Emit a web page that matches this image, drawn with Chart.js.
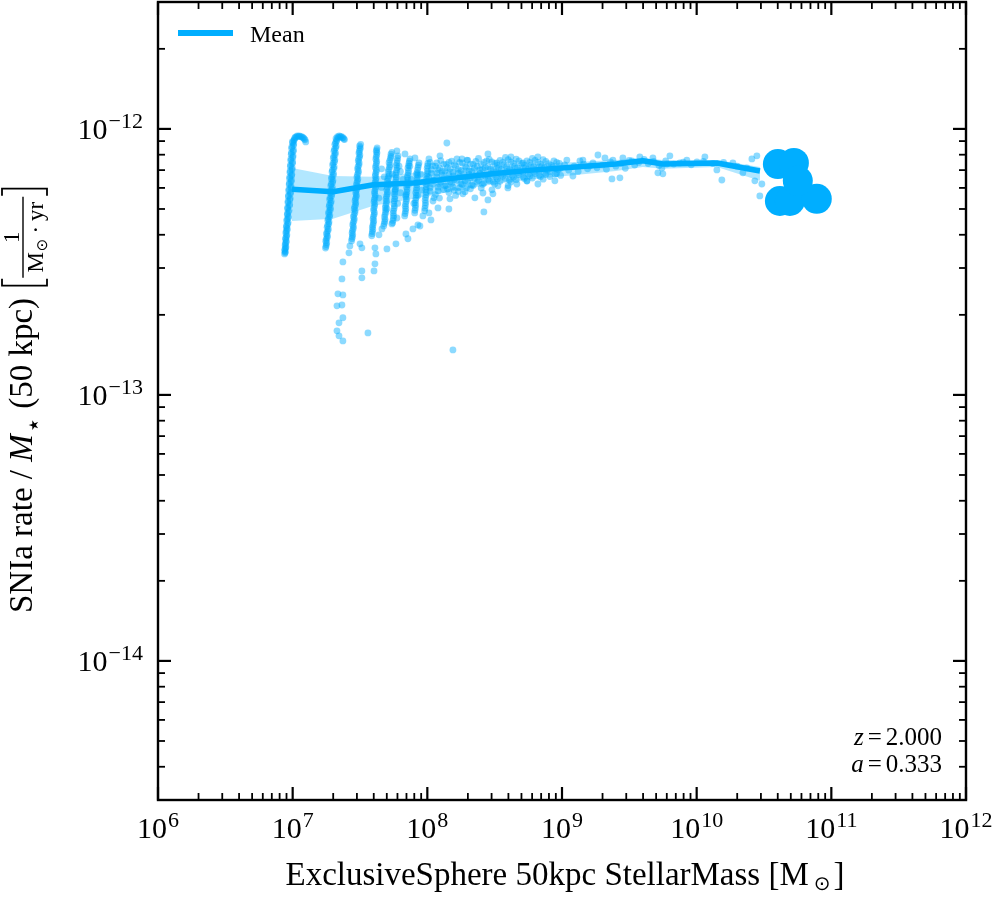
<!DOCTYPE html>
<html>
<head>
<meta charset="utf-8">
<script src="https://cdn.jsdelivr.net/npm/chart.js"></script>
<style>
  html, body { margin: 0; padding: 0; background: #ffffff; }
  canvas { display: block; }
</style>
</head>
<body>
<canvas id="c" width="996" height="900"></canvas>
<script>
// ---------------- DATA (log10 units) ----------------
// Mean curve (log10 stellar mass, log10 SNIa rate per mass)
const meanLogMass = [6.995, 7.30, 7.60, 7.90, 8.20, 8.50, 8.80, 9.10, 9.40, 9.60, 9.75, 10.15, 10.47];
const meanLogRate = [-12.227, -12.236, -12.210, -12.203, -12.185, -12.168, -12.154, -12.143, -12.132, -12.120, -12.132, -12.128, -12.158];
// 16th / 84th percentile band
const bandLogRateLow  = [-12.346, -12.338, -12.289, -12.263, -12.233, -12.207, -12.188, -12.173, -12.158, -12.143, -12.150, -12.143, -12.195];
const bandLogRateHigh = [-12.147, -12.177, -12.180, -12.165, -12.150, -12.139, -12.132, -12.124, -12.117, -12.109, -12.117, -12.117, -12.143];

// Individual galaxies: discrete-mass stripes at low mass
const stripePoints = [
  // stripe 1
  [6.940,-12.470],[6.946,-12.462],[6.942,-12.452],[6.950,-12.444],[6.945,-12.432],[6.953,-12.421],[6.948,-12.410],[6.957,-12.398],
  [6.951,-12.386],[6.960,-12.375],[6.954,-12.364],[6.966,-12.352],[6.958,-12.340],[6.970,-12.329],[6.961,-12.318],[6.973,-12.306],
  [6.963,-12.295],[6.978,-12.284],[6.966,-12.272],[6.982,-12.261],[6.969,-12.250],[6.985,-12.238],[6.972,-12.227],[6.988,-12.215],
  [6.975,-12.204],[6.991,-12.192],[6.978,-12.181],[6.994,-12.170],[6.981,-12.158],[6.997,-12.147],[6.984,-12.136],[7.000,-12.124],
  [6.987,-12.113],[7.003,-12.101],[6.990,-12.090],[7.006,-12.079],[6.994,-12.067],[7.008,-12.056],[6.998,-12.048],[7.012,-12.040],
  [7.020,-12.031],[7.034,-12.026],[7.050,-12.026],[7.066,-12.029],[7.080,-12.034],[7.092,-12.041],[7.097,-12.049],
  [6.944,-12.466],[6.941,-12.458],[6.948,-12.448],[6.944,-12.438],[6.951,-12.427],[6.947,-12.415],[6.955,-12.404],[6.950,-12.392],
  [6.958,-12.381],[6.953,-12.370],[6.963,-12.358],[6.956,-12.346],[6.967,-12.335],[6.960,-12.323],[6.971,-12.312],[6.962,-12.300],
  [6.975,-12.289],[6.965,-12.278],[6.979,-12.267],[6.968,-12.255],[6.983,-12.244],[6.971,-12.233],[6.986,-12.221],[6.974,-12.210],
  [6.989,-12.198],[6.977,-12.187],[6.992,-12.176],[6.980,-12.164],[6.995,-12.153],[6.983,-12.141],[6.998,-12.130],[6.986,-12.119],
  [7.001,-12.107],[6.989,-12.096],[7.004,-12.085],[6.992,-12.073],[7.006,-12.062],[7.000,-12.052],[7.009,-12.044],[7.015,-12.035],
  [7.027,-12.030],[7.042,-12.028],[7.058,-12.029],[7.073,-12.032],[7.086,-12.038],
  // stripe 2
  [7.244,-12.448],[7.250,-12.435],[7.246,-12.422],[7.256,-12.409],[7.251,-12.396],[7.262,-12.383],[7.256,-12.370],[7.268,-12.357],
  [7.261,-12.344],[7.273,-12.331],[7.266,-12.318],[7.279,-12.305],[7.271,-12.292],[7.283,-12.279],[7.275,-12.266],[7.288,-12.253],
  [7.279,-12.240],[7.292,-12.227],[7.283,-12.214],[7.297,-12.201],[7.288,-12.188],[7.301,-12.175],[7.292,-12.162],[7.306,-12.149],
  [7.297,-12.136],[7.311,-12.123],[7.302,-12.110],[7.315,-12.097],[7.307,-12.084],[7.320,-12.071],[7.313,-12.058],[7.326,-12.046],
  [7.322,-12.036],[7.333,-12.029],[7.346,-12.026],[7.360,-12.028],[7.374,-12.033],[7.385,-12.040],
  [7.247,-12.442],[7.253,-12.428],[7.249,-12.415],[7.259,-12.402],[7.254,-12.389],[7.265,-12.376],[7.259,-12.363],[7.270,-12.350],
  [7.264,-12.337],[7.276,-12.324],[7.269,-12.311],[7.281,-12.298],[7.273,-12.285],[7.286,-12.272],[7.277,-12.259],[7.290,-12.246],
  [7.281,-12.233],[7.295,-12.220],[7.286,-12.207],[7.299,-12.194],[7.290,-12.181],[7.304,-12.168],[7.295,-12.155],[7.308,-12.142],
  [7.300,-12.129],[7.313,-12.116],[7.305,-12.103],[7.318,-12.090],[7.310,-12.077],[7.323,-12.064],[7.318,-12.052],[7.328,-12.040],
  [7.339,-12.032],[7.353,-12.030],[7.367,-12.033],[7.380,-12.038],
  // stripe 3
  [7.437,-12.421],[7.443,-12.406],[7.441,-12.391],[7.449,-12.376],[7.446,-12.361],[7.455,-12.346],[7.451,-12.331],[7.462,-12.316],
  [7.457,-12.301],[7.467,-12.286],[7.463,-12.271],[7.472,-12.256],[7.468,-12.241],[7.477,-12.226],[7.473,-12.211],[7.481,-12.196],
  [7.477,-12.181],[7.487,-12.166],[7.482,-12.151],[7.492,-12.136],[7.487,-12.121],[7.497,-12.106],[7.492,-12.091],[7.500,-12.076],
  [7.497,-12.064],[7.505,-12.058],
  [7.440,-12.413],[7.446,-12.398],[7.444,-12.383],[7.452,-12.368],[7.449,-12.353],[7.458,-12.338],[7.455,-12.323],[7.464,-12.308],
  [7.460,-12.293],[7.469,-12.278],[7.466,-12.263],[7.474,-12.248],[7.471,-12.233],[7.479,-12.218],[7.476,-12.203],[7.484,-12.188],
  [7.480,-12.173],[7.489,-12.158],[7.485,-12.143],[7.494,-12.128],[7.490,-12.113],[7.499,-12.098],[7.495,-12.084],[7.502,-12.070],
  // stripe 4
  [7.587,-12.402],[7.592,-12.386],[7.592,-12.370],[7.599,-12.354],[7.597,-12.338],[7.605,-12.322],[7.601,-12.306],[7.608,-12.290],
  [7.604,-12.274],[7.611,-12.258],[7.608,-12.242],[7.614,-12.226],[7.610,-12.210],[7.617,-12.194],[7.613,-12.178],[7.620,-12.162],
  [7.615,-12.146],[7.622,-12.130],[7.618,-12.114],[7.624,-12.098],[7.621,-12.084],[7.627,-12.071],
  [7.590,-12.394],[7.595,-12.378],[7.596,-12.362],[7.602,-12.346],[7.600,-12.330],[7.607,-12.314],[7.603,-12.298],[7.610,-12.282],
  [7.606,-12.266],[7.613,-12.250],[7.609,-12.234],[7.616,-12.218],[7.612,-12.202],[7.619,-12.186],[7.615,-12.170],[7.622,-12.154],
  [7.618,-12.138],[7.624,-12.122],[7.620,-12.106],[7.626,-12.090],[7.624,-12.078],
  // stripe 5
  [7.676,-12.365],[7.684,-12.348],[7.682,-12.331],[7.690,-12.314],[7.688,-12.297],[7.696,-12.280],[7.693,-12.263],[7.702,-12.246],
  [7.698,-12.229],[7.707,-12.212],[7.703,-12.195],[7.713,-12.178],[7.709,-12.161],[7.720,-12.144],[7.716,-12.127],[7.727,-12.110],
  [7.730,-12.095],[7.737,-12.088],
  [7.680,-12.356],[7.686,-12.340],[7.686,-12.322],[7.692,-12.306],[7.691,-12.288],[7.698,-12.272],[7.697,-12.254],[7.704,-12.238],
  [7.703,-12.220],[7.710,-12.204],[7.708,-12.186],[7.716,-12.170],[7.714,-12.152],[7.722,-12.136],[7.722,-12.118],[7.730,-12.103],
  // stripe 6
  [7.742,-12.353],[7.748,-12.335],[7.746,-12.317],[7.753,-12.299],[7.751,-12.281],[7.758,-12.263],[7.755,-12.245],[7.763,-12.227],
  [7.760,-12.209],[7.768,-12.191],[7.764,-12.173],[7.772,-12.155],[7.769,-12.137],[7.777,-12.119],[7.782,-12.101],
  [7.745,-12.344],[7.750,-12.326],[7.749,-12.308],[7.756,-12.290],[7.754,-12.272],[7.760,-12.254],[7.759,-12.236],[7.766,-12.218],
  [7.764,-12.200],[7.770,-12.182],[7.769,-12.164],[7.775,-12.146],[7.774,-12.128],[7.779,-12.110],
  // stripe 7
  [7.832,-12.327],[7.838,-12.309],[7.836,-12.291],[7.843,-12.273],[7.841,-12.255],[7.848,-12.237],[7.846,-12.219],[7.853,-12.201],
  [7.851,-12.183],[7.858,-12.165],[7.856,-12.147],[7.864,-12.129],[7.871,-12.113],
  [7.835,-12.318],[7.840,-12.300],[7.839,-12.282],[7.845,-12.264],[7.844,-12.246],[7.850,-12.228],[7.850,-12.210],[7.856,-12.192],
  [7.855,-12.174],[7.861,-12.156],[7.861,-12.138],[7.867,-12.121],
  // stripe 8
  [7.906,-12.316],[7.911,-12.297],[7.910,-12.278],[7.916,-12.259],[7.914,-12.240],[7.921,-12.221],[7.919,-12.202],[7.926,-12.183],
  [7.924,-12.164],[7.931,-12.145],[7.938,-12.128],
  [7.908,-12.306],[7.913,-12.287],[7.913,-12.268],[7.918,-12.249],[7.918,-12.230],[7.923,-12.211],[7.923,-12.192],[7.928,-12.173],
  [7.928,-12.154],[7.934,-12.136],
  // stripe 9
  [7.980,-12.308],[7.985,-12.288],[7.984,-12.268],[7.990,-12.248],[7.989,-12.228],[7.995,-12.208],[7.994,-12.188],[8.000,-12.168],
  [7.999,-12.148],[8.004,-12.130],
  [7.982,-12.298],[7.987,-12.278],[7.987,-12.258],[7.992,-12.238],[7.992,-12.218],[7.997,-12.198],[7.997,-12.178],[8.002,-12.158],
  [8.002,-12.139]
];

// Individual galaxies: continuous cloud at intermediate / high mass
const cloudPoints = [
  [7.66,-12.150],[7.72,-12.210],[7.80,-12.160],[7.80,-12.240],[7.88,-12.190],[7.87,-12.140],[7.95,-12.170],[7.96,-12.230],
  [7.70,-12.300],[7.78,-12.280],[7.90,-12.280],
  [7.68,-12.18],[7.74,-12.17],[7.76,-12.23],[7.82,-12.19],[7.84,-12.25],[7.86,-12.21],[7.92,-12.17],[7.93,-12.25],
  [7.97,-12.20],[7.64,-12.26],[7.66,-12.22],[7.79,-12.14],
  [8.02,-12.126],[8.03,-12.152],[8.01,-12.181],[8.04,-12.207],[8.02,-12.234],[8.05,-12.259],
  [8.06,-12.140],[8.07,-12.166],[8.05,-12.193],[8.08,-12.219],[8.06,-12.247],
  [8.10,-12.119],[8.09,-12.147],[8.11,-12.173],[8.10,-12.200],[8.12,-12.228],[8.09,-12.260],
  [8.14,-12.133],[8.13,-12.159],[8.15,-12.186],[8.14,-12.213],[8.16,-12.239],
  [8.18,-12.121],[8.17,-12.150],[8.19,-12.177],[8.18,-12.205],[8.20,-12.231],
  [8.22,-12.113],[8.21,-12.139],[8.23,-12.166],[8.22,-12.193],[8.24,-12.221],[8.21,-12.250],
  [8.26,-12.128],[8.25,-12.156],[8.27,-12.182],[8.26,-12.209],[8.28,-12.236],
  [8.30,-12.118],[8.29,-12.145],[8.31,-12.171],[8.30,-12.198],[8.32,-12.225],
  [8.34,-12.133],[8.33,-12.160],[8.35,-12.186],[8.34,-12.213],
  [8.38,-12.111],[8.37,-12.140],[8.39,-12.167],[8.38,-12.194],[8.40,-12.222],
  [8.42,-12.126],[8.41,-12.152],[8.43,-12.178],[8.42,-12.204],
  [8.46,-12.115],[8.45,-12.142],[8.47,-12.168],[8.46,-12.195],[8.48,-12.229],
  [8.50,-12.130],[8.49,-12.156],[8.51,-12.181],[8.50,-12.207],
  [8.54,-12.118],[8.53,-12.146],[8.55,-12.171],[8.54,-12.197],
  [8.58,-12.107],[8.57,-12.134],[8.59,-12.160],[8.58,-12.186],[8.60,-12.213],
  [8.62,-12.124],[8.61,-12.150],[8.63,-12.175],[8.62,-12.200],
  [8.66,-12.114],[8.65,-12.140],[8.67,-12.165],[8.66,-12.191],
  [8.70,-12.130],[8.69,-12.155],[8.71,-12.180],
  [8.74,-12.120],[8.73,-12.146],[8.75,-12.170],[8.74,-12.196],
  [8.78,-12.111],[8.77,-12.136],[8.79,-12.161],[8.78,-12.185],
  [8.82,-12.126],[8.81,-12.150],[8.83,-12.175],
  [8.86,-12.116],[8.85,-12.141],[8.87,-12.165],[8.86,-12.189],
  [8.90,-12.131],[8.89,-12.155],[8.91,-12.179],
  [8.94,-12.120],[8.93,-12.145],[8.95,-12.170],
  [8.98,-12.130],[8.97,-12.153],[8.99,-12.175],
  [8.04,-12.139],[8.03,-12.166],[8.04,-12.193],[8.02,-12.220],[8.07,-12.128],[8.08,-12.153],[8.07,-12.180],[8.09,-12.207],[8.08,-12.233],
  [8.12,-12.133],[8.11,-12.160],[8.12,-12.187],[8.13,-12.214],[8.16,-12.126],[8.15,-12.146],[8.16,-12.172],[8.17,-12.199],[8.15,-12.226],
  [8.20,-12.135],[8.19,-12.163],[8.20,-12.190],[8.19,-12.218],[8.24,-12.126],[8.23,-12.152],[8.24,-12.179],[8.25,-12.206],[8.23,-12.235],
  [8.28,-12.141],[8.27,-12.168],[8.28,-12.196],[8.29,-12.222],[8.32,-12.132],[8.31,-12.158],[8.32,-12.184],[8.33,-12.211],
  [8.36,-12.122],[8.35,-12.147],[8.36,-12.173],[8.37,-12.200],[8.40,-12.133],[8.39,-12.154],[8.40,-12.180],[8.41,-12.208],
  [8.44,-12.120],[8.43,-12.146],[8.44,-12.172],[8.45,-12.190],[8.48,-12.124],[8.47,-12.150],[8.48,-12.175],[8.49,-12.200],
  [8.52,-12.137],[8.51,-12.162],[8.52,-12.188],[8.56,-12.126],[8.55,-12.152],[8.56,-12.178],[8.60,-12.116],[8.59,-12.142],[8.60,-12.168],[8.61,-12.192],
  [8.64,-12.130],[8.63,-12.156],[8.64,-12.181],[8.68,-12.120],[8.67,-12.146],[8.68,-12.172],[8.72,-12.136],[8.71,-12.162],[8.72,-12.186],
  [8.76,-12.126],[8.75,-12.152],[8.76,-12.177],[8.80,-12.118],[8.79,-12.142],[8.80,-12.168],[8.84,-12.132],[8.83,-12.156],[8.84,-12.180],
  [8.88,-12.122],[8.87,-12.146],[8.88,-12.170],[8.92,-12.136],[8.91,-12.160],[8.96,-12.126],[8.95,-12.150],[8.96,-12.168],
  [9.02,-12.135],[9.05,-12.155],[9.09,-12.140],[9.12,-12.160],[9.16,-12.132],[9.19,-12.150],[9.23,-12.128],[9.26,-12.146],
  [9.30,-12.136],[9.33,-12.152],[9.36,-12.124],[9.40,-12.140],[9.44,-12.130],[9.47,-12.148],[9.50,-12.118],[9.54,-12.136],
  [9.57,-12.126],[9.61,-12.115],[9.64,-12.130],[9.68,-12.122],[9.72,-12.138],[9.77,-12.120],[9.83,-12.132],[9.90,-12.125],
  [9.96,-12.135],[10.05,-12.122],[10.12,-12.130],[10.20,-12.126],[10.30,-12.140],
  [8.984,-12.150],[9.081,-12.177],[9.133,-12.120],[9.207,-12.139],[9.319,-12.109],[9.371,-12.188],[9.378,-12.117],[9.430,-12.184],
  [9.452,-12.109],[9.519,-12.120],[9.578,-12.105],[9.675,-12.109],[9.712,-12.165],[9.742,-12.147],[9.749,-12.169],[9.779,-12.132],
  [9.801,-12.101],[9.875,-12.128],[9.927,-12.117],[10.002,-12.124],[10.061,-12.105],[10.150,-12.154],[10.187,-12.192],[10.269,-12.128],
  [10.343,-12.165],[10.373,-12.147],[10.410,-12.113],[10.432,-12.195],[10.447,-12.101],[10.469,-12.252],[10.484,-12.207]
];

// Isolated outliers above / below the main relation
const outlierPoints = [
  [7.373,-12.500],[7.366,-12.564],[7.336,-12.620],[7.373,-12.624],[7.329,-12.665],[7.366,-12.662],[7.344,-12.729],[7.373,-12.710],
  [7.329,-12.759],[7.344,-12.778],[7.373,-12.797],[7.559,-12.767],[8.190,-12.831],[7.514,-12.534],[7.514,-12.560],[7.611,-12.447],
  [7.618,-12.470],[7.611,-12.507],[7.604,-12.534],[7.700,-12.451],[7.767,-12.432],[7.841,-12.395],[7.856,-12.413],[7.893,-12.376],
  [7.930,-12.361],[8.027,-12.342],[8.160,-12.301],[8.420,-12.312],[8.450,-12.267],[8.487,-12.244],[7.425,-12.440],[7.418,-12.466],
  [7.500,-12.432],[7.514,-12.447],[7.641,-12.398],[7.663,-12.376],[7.737,-12.357],[7.774,-12.335],
  [8.145,-12.053],[8.012,-12.113],[8.094,-12.101],[8.257,-12.113],[8.294,-12.117],[8.450,-12.094],[8.517,-12.128],[8.621,-12.105],
  [8.710,-12.128],[8.821,-12.105],[9.036,-12.117],[9.155,-12.117],[9.267,-12.098],[7.774,-12.083],[7.834,-12.094],[7.908,-12.109],
  [7.945,-12.365],[7.967,-12.327],[8.012,-12.316],[8.079,-12.297],[8.042,-12.271],[8.168,-12.263],[8.264,-12.244],[8.353,-12.259],
  [8.413,-12.241],[8.524,-12.214],[8.598,-12.222],[8.665,-12.207],[8.821,-12.207],[8.947,-12.195],[8.739,-12.195]
];

// Most massive galaxies (drawn large)
const bigLogMass = [10.603, 10.722, 10.618, 10.692, 10.892, 10.751];
const bigLogRate = [-12.132, -12.128, -12.271, -12.271, -12.263, -12.195];

// Axis ticks
const xMajorExponents = [6, 7, 8, 9, 10, 11, 12];
const yMajorExponents = [-14, -13, -12];
const minorMultipliers = [2, 3, 4, 5, 6, 7, 8, 9];
const xRange = [1e6, 1e12];
const yRange = [3e-15, 3e-12];

const legendLabel = 'Mean';
const redshiftText = ['z', '2.000'];
const scaleText = ['a', '0.333'];

// ---------------- CHART ----------------
const BLUE = 'rgb(0,174,255)';
const SERIF = '"Liberation Serif", "Times New Roman", serif';
const toPts = arr => arr.map(([lm, lr]) => ({ x: Math.pow(10, lm), y: Math.pow(10, lr) }));

function drawPow(ctx, exp, x, baseline, align) {
  const base = '10';
  const sup = exp < 0 ? '\u2212' + (-exp) : String(exp);
  ctx.font = '30px ' + SERIF;
  const wb = ctx.measureText(base).width;
  ctx.font = '22px ' + SERIF;
  const ws = ctx.measureText(sup).width;
  const total = wb + 1 + ws;
  const x0 = align === 'right' ? x - total : x - total / 2;
  ctx.textAlign = 'left';
  ctx.textBaseline = 'alphabetic';
  ctx.font = '30px ' + SERIF;
  ctx.fillText(base, x0, baseline);
  ctx.font = '22px ' + SERIF;
  ctx.fillText(sup, x0 + wb + 1, baseline - 11);
}

function drawSeq(ctx, pieces, x, y) {
  // pieces: [text, font, dy, gapAfter]
  let cx = x;
  for (const p of pieces) {
    ctx.font = p[1];
    ctx.fillText(p[0], cx, y + (p[2] || 0));
    cx += ctx.measureText(p[0]).width + (p[3] || 0);
  }
  return cx;
}
function seqWidth(ctx, pieces) {
  let w = 0;
  for (const p of pieces) { ctx.font = p[1]; w += ctx.measureText(p[0]).width + (p[3] || 0); }
  return w;
}

const decor = {
  id: 'decor',
  afterDraw(chart) {
    const { ctx, chartArea: a, scales } = chart;
    const xs = scales.x, ys = scales.y;
    ctx.save();
    ctx.fillStyle = '#000';
    ctx.strokeStyle = '#000';

    // ticks (inward, all four sides)
    const tick = (x1, y1, x2, y2, w) => { ctx.lineWidth = w; ctx.beginPath(); ctx.moveTo(x1, y1); ctx.lineTo(x2, y2); ctx.stroke(); };
    for (const e of xMajorExponents) {
      const px = xs.getPixelForValue(Math.pow(10, e));
      tick(px, a.bottom, px, a.bottom - 13, 2.2);
      tick(px, a.top, px, a.top + 13, 2.2);
      for (const k of minorMultipliers) {
        const v = k * Math.pow(10, e);
        if (v > xRange[1]) continue;
        const q = xs.getPixelForValue(v);
        tick(q, a.bottom, q, a.bottom - 7, 1.8);
        tick(q, a.top, q, a.top + 7, 1.8);
      }
    }
    for (const e of [-15, -14, -13, -12]) {
      const v0 = Math.pow(10, e);
      if (yMajorExponents.includes(e)) {
        const py = ys.getPixelForValue(v0);
        tick(a.left, py, a.left + 13, py, 2.2);
        tick(a.right, py, a.right - 13, py, 2.2);
      }
      for (const k of minorMultipliers) {
        const v = k * v0;
        if (v < yRange[0] * 0.999 || v > yRange[1] * 1.001) continue;
        const q = ys.getPixelForValue(v);
        tick(a.left, q, a.left + 7, q, 1.8);
        tick(a.right, q, a.right - 7, q, 1.8);
      }
    }
    // frame
    ctx.lineWidth = 2.4;
    ctx.strokeRect(a.left, a.top, a.right - a.left, a.bottom - a.top);

    // tick labels
    for (const e of xMajorExponents) drawPow(ctx, e, xs.getPixelForValue(Math.pow(10, e)), a.bottom + 38, 'center');
    for (const e of yMajorExponents) drawPow(ctx, e, a.left - 15, ys.getPixelForValue(Math.pow(10, e)) + 10, 'right');

    // x axis title
    ctx.textAlign = 'left'; ctx.textBaseline = 'alphabetic';
    const F = '33px ' + SERIF;
    const xt = [['ExclusiveSphere 50kpc StellarMass [M', F, 0, 5], ['\u2299', '20px "DejaVu Sans"', 5, 3], [']', F, 0, 0]];
    const wxt = seqWidth(ctx, xt);
    drawSeq(ctx, xt, (a.left + a.right) / 2 - wxt / 2 + 3, 885);

    // y axis title (rotated)
    ctx.save();
    ctx.translate(32, 613);
    ctx.rotate(-Math.PI / 2);
    let u = drawSeq(ctx, [['SNIa rate / ', F, 0, 0], ['M', 'italic 33px ' + SERIF, 0, 1], ['\u22C6', '26px "DejaVu Sans"', 10, 0], [' (50 kpc) ', F, 0, 0]], 0, 0);
    const uL = u + 4, uR = uL + 97;
    ctx.lineWidth = 1.8;
    ctx.beginPath();
    ctx.moveTo(uL + 7, -30); ctx.lineTo(uL, -30); ctx.lineTo(uL, 15); ctx.lineTo(uL + 7, 15);
    ctx.moveTo(uR - 7, -30); ctx.lineTo(uR, -30); ctx.lineTo(uR, 15); ctx.lineTo(uR - 7, 15);
    ctx.stroke();
    ctx.lineWidth = 1.4;
    ctx.beginPath(); ctx.moveTo(uL + 8, -9); ctx.lineTo(uR - 8, -9); ctx.stroke();
    const uc = (uL + uR) / 2;
    ctx.font = '23px ' + SERIF;
    const w1 = ctx.measureText('1').width;
    ctx.fillText('1', uc - w1 / 2, -13);
    const den = [['M', '23px ' + SERIF, 0, 1], ['\u2299', '15px "DejaVu Sans"', 4, 5], ['\u00B7', '23px ' + SERIF, 0, 5], ['yr', '23px ' + SERIF, 0, 0]];
    const wd = seqWidth(ctx, den);
    drawSeq(ctx, den, uc - wd / 2, 11);
    ctx.restore();

    // legend
    ctx.strokeStyle = BLUE; ctx.lineWidth = 6;
    ctx.beginPath(); ctx.moveTo(178, 33); ctx.lineTo(233, 33); ctx.stroke();
    ctx.fillStyle = '#000';
    ctx.font = '24px ' + SERIF;
    ctx.fillText(legendLabel, 250, 42);

    // redshift annotation (right aligned)
    const R = 942;
    const zl = [[redshiftText[0], 'italic 25px ' + SERIF, 0, 4], ['=', '25px ' + SERIF, 0, 4], [redshiftText[1], '25px ' + SERIF, 0, 0]];
    drawSeq(ctx, zl, R - seqWidth(ctx, zl), 745);
    const al = [[scaleText[0], 'italic 25px ' + SERIF, 0, 4], ['=', '25px ' + SERIF, 0, 4], [scaleText[1], '25px ' + SERIF, 0, 0]];
    drawSeq(ctx, al, R - seqWidth(ctx, al), 772);

    ctx.restore();
  }
};

const allPoints = toPts(stripePoints.concat(cloudPoints, outlierPoints));
const meanPts = meanLogMass.map((m, i) => ({ x: Math.pow(10, m), y: Math.pow(10, meanLogRate[i]) }));
const bandHi = meanLogMass.map((m, i) => ({ x: Math.pow(10, m), y: Math.pow(10, bandLogRateHigh[i]) }));
const bandLo = meanLogMass.map((m, i) => ({ x: Math.pow(10, m), y: Math.pow(10, bandLogRateLow[i]) }));
const bigPts = bigLogMass.map((m, i) => ({ x: Math.pow(10, m), y: Math.pow(10, bigLogRate[i]) }));

new Chart(document.getElementById('c'), {
  type: 'scatter',
  data: {
    datasets: [
      { label: 'p84', type: 'line', data: bandHi, borderColor: 'rgba(0,0,0,0)', borderWidth: 0, pointRadius: 0, fill: false, tension: 0, order: 5 },
      { label: 'p16', type: 'line', data: bandLo, borderColor: 'rgba(0,0,0,0)', borderWidth: 0, pointRadius: 0, fill: '-1', backgroundColor: 'rgba(0,174,255,0.30)', tension: 0, order: 4 },
      { label: 'galaxies', data: allPoints, pointRadius: 3.4, pointHoverRadius: 3.4, backgroundColor: 'rgba(0,174,255,0.45)', borderWidth: 0, order: 3 },
      { label: legendLabel, type: 'line', data: meanPts, borderColor: BLUE, borderWidth: 5.5, pointRadius: 0, fill: false, tension: 0, borderJoinStyle: 'round', order: 2 },
      { label: 'massive', data: bigPts, pointRadius: 15, pointHoverRadius: 15, backgroundColor: BLUE, borderWidth: 0, order: 1 }
    ]
  },
  options: {
    responsive: false,
    animation: false,
    devicePixelRatio: 1,
    events: [],
    layout: { autoPadding: false, padding: { left: 0, top: 2, right: 30, bottom: 0 } },
    plugins: { legend: { display: false }, tooltip: { enabled: false } },
    scales: {
      x: {
        type: 'logarithmic', min: xRange[0], max: xRange[1],
        grid: { display: false }, border: { display: false }, ticks: { display: false },
        afterFit(s) { s.height = 100; }
      },
      y: {
        type: 'logarithmic', min: yRange[0], max: yRange[1],
        grid: { display: false }, border: { display: false }, ticks: { display: false },
        afterFit(s) { s.width = 158; }
      }
    }
  },
  plugins: [decor]
});
</script>
</body>
</html>
